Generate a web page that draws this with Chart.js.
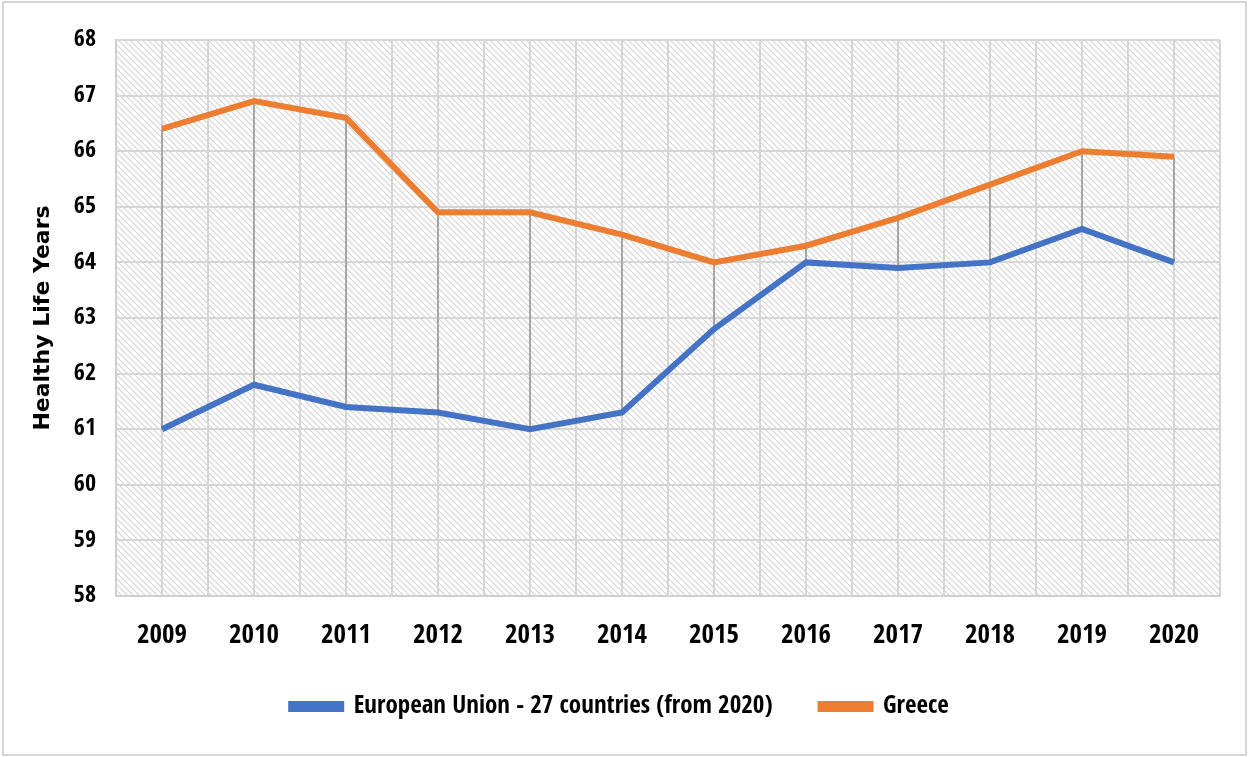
<!DOCTYPE html>
<html>
<head>
<meta charset="utf-8">
<script src="https://cdn.jsdelivr.net/npm/chart.js@4.4.0/dist/chart.umd.min.js"></script>
<style>
  html, body { margin: 0; padding: 0; background: #fff; }
  #wrap { width: 1248px; height: 757px; }
</style>
</head>
<body>
<div id="wrap"><canvas id="grafico" width="1248" height="757"></canvas></div>
<script>
// Dados
const anos = ['2009', '2010', '2011', '2012', '2013', '2014', '2015', '2016', '2017', '2018', '2019', '2020'];
const ue27 = [61.0, 61.8, 61.4, 61.3, 61.0, 61.3, 62.8, 64.0, 63.9, 64.0, 64.6, 64.0];
const grecia = [66.4, 66.9, 66.6, 64.9, 64.9, 64.5, 64.0, 64.3, 64.8, 65.4, 66.0, 65.9];
const ticksY = [58, 59, 60, 61, 62, 63, 64, 65, 66, 67, 68];

const fonteEstreita = '"Open Sans Condensed", "Roboto Condensed", "Liberation Sans", sans-serif';

// Textura listrada do fundo
function hachura() {
  const t = document.createElement('canvas');
  t.width = 6; t.height = 6;
  const c = t.getContext('2d');
  c.fillStyle = '#ffffff';
  c.fillRect(0, 0, 6, 6);
  c.strokeStyle = '#d5d5d5';
  c.lineWidth = 1.2;
  c.beginPath();
  c.moveTo(-1, -1); c.lineTo(7, 7);
  c.moveTo(-1, 5); c.lineTo(1, 7);
  c.moveTo(5, -1); c.lineTo(7, 1);
  c.stroke();
  return t;
}

// Fundo, moldura e linhas de grade nos centros
const fundo = {
  id: 'fundo',
  beforeDraw(chart) {
    const { ctx, chartArea: a, scales } = chart;
    ctx.save();
    ctx.strokeStyle = '#d6d6d6';
    ctx.lineWidth = 2;
    ctx.strokeRect(3, 2, chart.width - 5, chart.height - 4);
    ctx.fillStyle = ctx.createPattern(hachura(), 'repeat');
    ctx.fillRect(a.left, a.top, a.right - a.left, a.bottom - a.top);
    ctx.strokeStyle = '#d6d6d6';
    ctx.lineWidth = 2;
    ctx.beginPath();
    anos.forEach((_, i) => {
      const x = Math.round(scales.x.getPixelForValue(i));
      ctx.moveTo(x, a.top);
      ctx.lineTo(x, a.bottom);
    });
    ctx.stroke();
    ctx.restore();
  },
  // Linhas de queda entre as duas séries
  beforeDatasetsDraw(chart) {
    const { ctx, scales } = chart;
    ctx.save();
    ctx.strokeStyle = '#a6a6a6';
    ctx.lineWidth = 2;
    ctx.beginPath();
    anos.forEach((_, i) => {
      const x = Math.round(scales.x.getPixelForValue(i));
      ctx.moveTo(x, scales.y.getPixelForValue(Math.max(grecia[i], ue27[i])));
      ctx.lineTo(x, scales.y.getPixelForValue(Math.min(grecia[i], ue27[i])));
    });
    ctx.stroke();
    ctx.restore();
  }
};

new Chart(document.getElementById('grafico'), {
  type: 'line',
  data: {
    labels: anos,
    datasets: [
      {
        label: 'European Union - 27 countries (from 2020)',
        data: ue27,
        borderColor: '#4472c4',
        backgroundColor: '#4472c4',
        borderWidth: 6,
        pointRadius: 0,
        tension: 0
      },
      {
        label: 'Greece',
        data: grecia,
        borderColor: '#ed7d31',
        backgroundColor: '#ed7d31',
        borderWidth: 6,
        pointRadius: 0,
        tension: 0
      }
    ]
  },
  options: {
    responsive: false,
    animation: false,
    layout: { padding: { left: 20, right: 28, top: 40, bottom: 28 } },
    plugins: {
      tooltip: { enabled: false },
      legend: {
        position: 'bottom',
        labels: {
          boxWidth: 50,
          boxHeight: 5,
          padding: 48,
          color: '#000',
          font: { family: fonteEstreita, size: 25, weight: 'bold' }
        }
      }
    },
    scales: {
      x: {
        offset: true,
        grid: { color: '#d6d6d6', lineWidth: 2, drawTicks: false, offset: true },
        border: { color: '#d0d0d0', width: 2 },
        ticks: {
          color: '#000',
          padding: 24,
          maxRotation: 0,
          font: { family: fonteEstreita, size: 27, weight: 'bold' }
        },
        afterFit(s) { s.height = 50; }
      },
      y: {
        min: ticksY[0],
        max: ticksY[ticksY.length - 1],
        afterBuildTicks(s) { s.ticks = ticksY.map(v => ({ value: v })); },
        grid: { color: '#d6d6d6', lineWidth: 2, drawTicks: false },
        border: { color: '#d0d0d0', width: 2 },
        ticks: {
          color: '#000',
          padding: 20,
          font: { family: fonteEstreita, size: 24, weight: 'bold' }
        },
        title: {
          display: true,
          text: 'Healthy Life Years',
          color: '#000',
          padding: { top: 10, bottom: 0 },
          font: { family: '"DejaVu Sans", sans-serif', size: 22, weight: 'bold' }
        },
        afterFit(s) { s.width = 96; }
      }
    }
  },
  plugins: [fundo]
});
</script>
</body>
</html>
